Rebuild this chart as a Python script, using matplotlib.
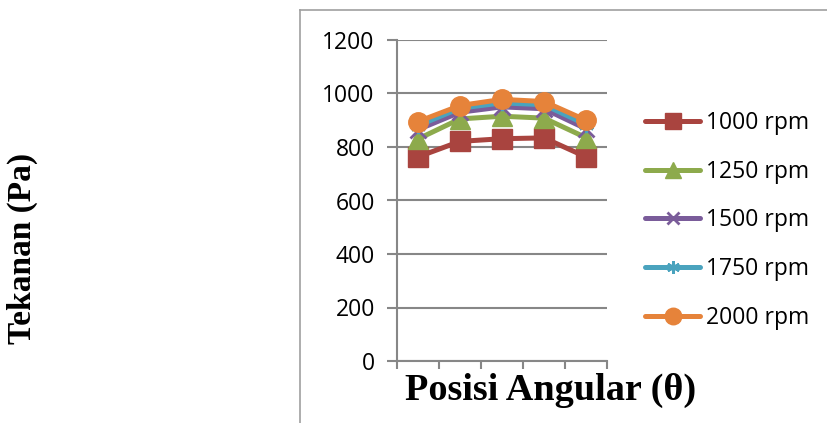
import matplotlib
matplotlib.use("Agg")
import matplotlib.pyplot as plt
from matplotlib.lines import Line2D

positions = ["1", "2", "3", "4", "5"]
series_labels = ["1000 rpm", "1250 rpm", "1500 rpm", "1750 rpm", "2000 rpm"]
rpm_1000 = [763, 821, 831, 834, 763]
rpm_1250 = [830, 905, 915, 908, 835]
rpm_1500 = [865, 930, 950, 943, 868]
rpm_1750 = [880, 945, 965, 958, 884]
rpm_2000 = [895, 955, 978, 970, 900]
y_ticks = [0, 200, 400, 600, 800, 1000, 1200]

all_series = [rpm_1000, rpm_1250, rpm_1500, rpm_1750, rpm_2000]
colors = ["#A9443F", "#8DAA4C", "#7A5C9A", "#4AA3BE", "#E6833A"]
markers = ["s", "^", "x", (6, 2, 0), "o"]
msizes = [14, 14, 11, 11, 14]

W, H = 827, 423
fig = plt.figure(figsize=(W / 100, H / 100), dpi=100)
ax = fig.add_axes([397 / W, 1 - 361 / H, 210 / W, 321 / H])

x = list(range(1, len(positions) + 1))
handles = []
for vals, c, m, ms, lab in zip(all_series, colors, markers, msizes, series_labels):
    mew = 2.0 if m in ("x",) or isinstance(m, tuple) else 1.0
    ln, = ax.plot(x, vals, color=c, lw=3.6, marker=m, ms=ms, mfc=c, mec=c,
                  mew=mew, label=lab, solid_capstyle="round", zorder=3)
    handles.append(ln)

ax.set_xlim(0.5, 5.5)
ax.set_ylim(0, 1200)
ax.set_yticks(y_ticks)
ax.set_yticklabels([str(v) for v in y_ticks], fontfamily="Open Sans", fontsize=16.5)
ax.set_xticks([0.5, 1.5, 2.5, 3.5, 4.5, 5.5])
ax.set_xticklabels([])
ax.grid(axis="y", color="#878787", lw=1.5, zorder=0)
ax.set_axisbelow(True)
for s in ["top", "right"]:
    ax.spines[s].set_visible(False)
for s in ["left", "bottom"]:
    ax.spines[s].set_color("#878787")
    ax.spines[s].set_linewidth(1.5)
ax.tick_params(axis="y", length=7, width=1.5, color="#878787", pad=9)
ax.tick_params(axis="x", length=6, width=1.5, color="#878787")

fig.text(22 / W, 1 - 248 / H, "Tekanan (Pa)", rotation=90, ha="center", va="center",
         fontfamily="Liberation Serif", fontweight="bold", fontsize=24)
fig.text(551 / W, 1 - 390 / H, "Posisi Angular (\u03b8)", ha="center", va="center",
         fontfamily="Liberation Serif", fontweight="bold", fontsize=27.5)

leg = ax.legend(handles=handles, loc="upper left", bbox_to_anchor=(634 / W, 1 - 100 / H),
                bbox_transform=fig.transFigure, frameon=False, borderpad=0,
                handlelength=2.4, handletextpad=0.22, labelspacing=1.07, markerscale=0.85,
                prop={"family": "Open Sans", "size": 16.5})

# chart area frame (left and top border)
fig.add_artist(Line2D([300 / W, 300 / W], [0, 1 - 10 / H], transform=fig.transFigure,
                      color="#A0A0A0", lw=1.2))
fig.add_artist(Line2D([300 / W, 1], [1 - 10 / H, 1 - 10 / H], transform=fig.transFigure,
                      color="#A0A0A0", lw=1.2))

fig.savefig("out.png", dpi=100)
